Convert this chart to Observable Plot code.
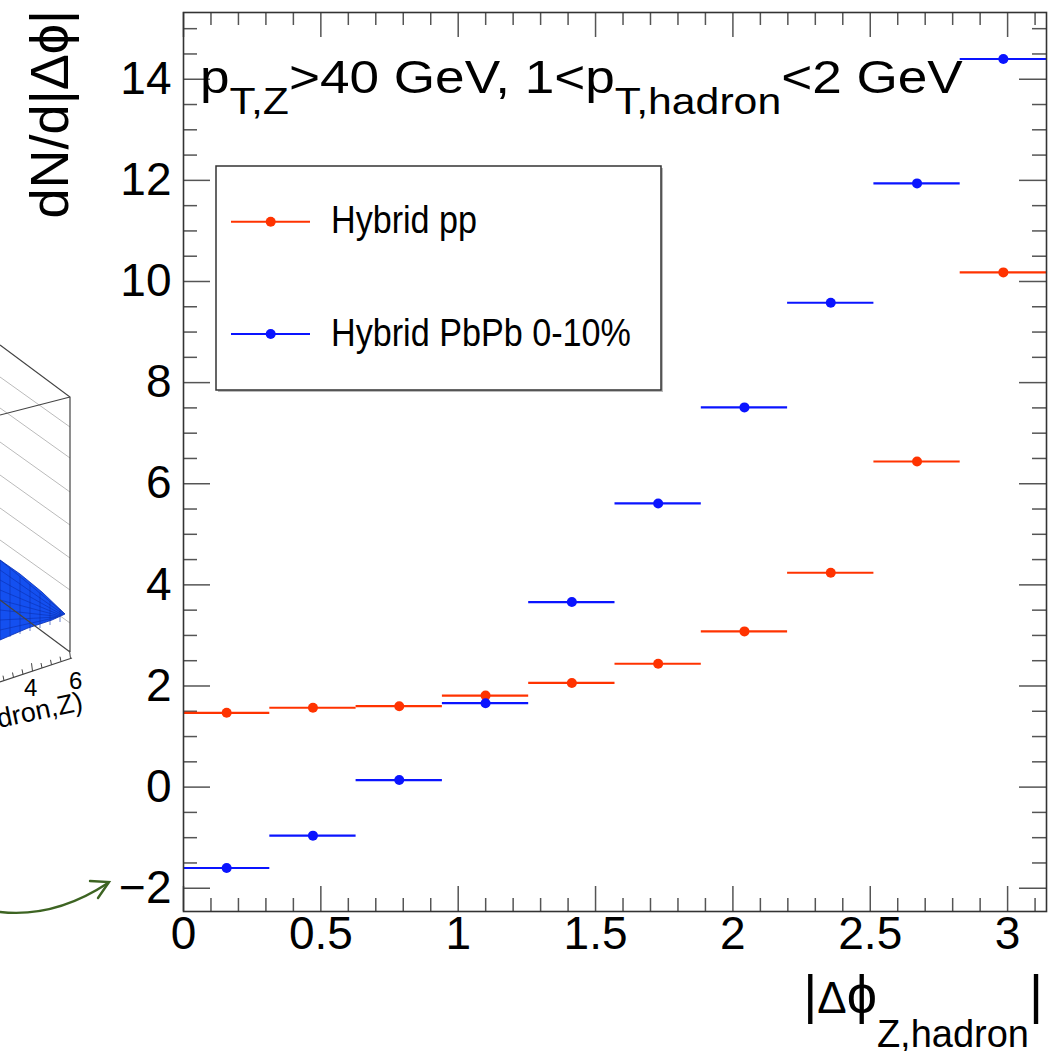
<!DOCTYPE html>
<html>
<head>
<meta charset="utf-8">
<script src="https://cdn.jsdelivr.net/npm/d3@7"></script>
<script src="https://cdn.jsdelivr.net/npm/@observablehq/plot@0.6"></script>
<style>
  html, body { margin: 0; padding: 0; background: #fff; }
  #chart svg { display: block; }
</style>
</head>
<body>
<div id="chart"></div>
<script>
// |Δφ| bin edges (10 bins from 0 to π)
const binEdges = [0, 0.3142, 0.6283, 0.9425, 1.2566, 1.5708, 1.8850, 2.1991, 2.5133, 2.8274, 3.1416];
// dN/d|Δφ| per bin
const hybridPP   = [1.47, 1.57, 1.60, 1.81, 2.06, 2.44, 3.08, 4.24, 6.44, 10.18];
const hybridPbPb = [-1.60, -0.96, 0.14, 1.66, 3.66, 5.61, 7.51, 9.58, 11.94, 14.40];
const seriesNames  = ["Hybrid pp", "Hybrid PbPb 0-10%"];
const seriesColors = ["#ff3300", "#0a14ff"];
const xTickLabels = [0, 0.5, 1, 1.5, 2, 2.5, 3];
const yTickLabels = [-2, 0, 2, 4, 6, 8, 10, 12, 14];

const W = 1049, H = 1051;
const mTop = 12, mRight = 3, mBottom = 140, mLeft = 183;
const plotW = W - mLeft - mRight, plotH = H - mTop - mBottom;

const rows = [];
[hybridPP, hybridPbPb].forEach((vals, s) => {
  vals.forEach((v, i) => {
    const lo = binEdges[i], hi = binEdges[i + 1];
    rows.push({series: seriesNames[s], lo, hi, mid: (lo + hi) / 2, value: v});
  });
});

// ROOT-style inward ticks on all four sides
const xMinor = d3.range(0, 3.15, 0.1).filter(v => Math.abs(v * 2 - Math.round(v * 2)) > 1e-6);
const yMinor = d3.range(-2, 15.01, 0.5).filter(v => Math.abs(v / 2 - Math.round(v / 2)) > 1e-6);
const tickStroke = "#555";
const fmt = d => (d < 0 ? "\u2212" + Math.abs(d) : String(d));

const chart = Plot.plot({
  width: W, height: H,
  marginTop: mTop, marginRight: mRight, marginBottom: mBottom, marginLeft: mLeft,
  style: {fontFamily: "'Liberation Sans', Arial, Helvetica, sans-serif", background: "#fff"},
  x: {domain: [0, Math.PI], axis: null},
  y: {domain: [-2.46, 15.32], axis: null},
  color: {domain: seriesNames, range: seriesColors},
  marks: [
    // left / right ticks
    Plot.tickY(yTickLabels, {y: d => d, stroke: tickStroke, strokeWidth: 1.5, insetRight: plotW - 27}),
    Plot.tickY(yMinor, {y: d => d, stroke: tickStroke, strokeWidth: 1.5, insetRight: plotW - 14}),
    Plot.tickY(yTickLabels, {y: d => d, stroke: tickStroke, strokeWidth: 1.5, insetLeft: plotW - 27}),
    Plot.tickY(yMinor, {y: d => d, stroke: tickStroke, strokeWidth: 1.5, insetLeft: plotW - 14}),
    // top / bottom ticks
    Plot.tickX(xTickLabels, {x: d => d, stroke: tickStroke, strokeWidth: 1.5, insetBottom: plotH - 25}),
    Plot.tickX(xMinor, {x: d => d, stroke: tickStroke, strokeWidth: 1.5, insetBottom: plotH - 13}),
    Plot.tickX(xTickLabels, {x: d => d, stroke: tickStroke, strokeWidth: 1.5, insetTop: plotH - 25}),
    Plot.tickX(xMinor, {x: d => d, stroke: tickStroke, strokeWidth: 1.5, insetTop: plotH - 13}),
    // tick labels
    Plot.text(xTickLabels, {x: d => d, frameAnchor: "bottom", dy: 37, text: fmt, fontSize: 46, fill: "#000"}),
    Plot.text(yTickLabels, {y: d => d, frameAnchor: "left", dx: -12, textAnchor: "end", text: fmt, fontSize: 46, fill: "#000"}),
    // horizontal bin-width bars and markers
    Plot.ruleY(rows, {y: "value", x1: "lo", x2: "hi", stroke: "series", strokeWidth: 2.2}),
    Plot.dot(rows, {x: "mid", y: "value", r: 5, fill: "series", stroke: null}),
    Plot.frame({stroke: "#333", strokeWidth: 1.6})
  ]
});

document.getElementById("chart").appendChild(chart);
const svg = d3.select(chart);
const font = "'Liberation Sans', Arial, Helvetica, sans-serif";

// Title with subscripts (ROOT's Helvetica renders wider than Liberation Sans)
const title = svg.append("text")
  .attr("transform", "translate(200,93) scale(1.155,1)").attr("text-anchor", "start")
  .attr("font-family", font).attr("font-size", 46).attr("fill", "#000");
title.append("tspan").text("p");
title.append("tspan").attr("font-size", 37).attr("dy", 21).text("T,Z");
title.append("tspan").attr("dy", -21).text(">40 GeV, 1<p");
title.append("tspan").attr("font-size", 37).attr("dy", 21).text("T,hadron");
title.append("tspan").attr("dy", -21).text("<2 GeV");

// Legend box
const lg = svg.append("g").attr("text-anchor", "start");
lg.append("rect").attr("x", 218).attr("y", 168).attr("width", 445).attr("height", 224)
  .attr("fill", "#bbb");
lg.append("rect").attr("x", 216).attr("y", 166).attr("width", 445).attr("height", 224)
  .attr("fill", "#fff").attr("stroke", "#333").attr("stroke-width", 1.5);
[221.7, 334].forEach((ly, i) => {
  lg.append("line").attr("x1", 231).attr("x2", 310).attr("y1", ly).attr("y2", ly)
    .attr("stroke", seriesColors[i]).attr("stroke-width", 2);
  lg.append("circle").attr("cx", 270.7).attr("cy", ly).attr("r", 5).attr("fill", seriesColors[i]);
  lg.append("text").attr("x", 331).attr("y", ly + 11.5)
    .attr("font-family", font).attr("font-size", 39).attr("fill", "#000")
    .attr("textLength", i === 0 ? 146 : 300).attr("lengthAdjust", "spacingAndGlyphs")
    .text(seriesNames[i]);
});

// Y axis title
svg.append("text")
  .attr("transform", "translate(68,10) rotate(-90)")
  .attr("text-anchor", "end")
  .attr("font-family", font).attr("font-size", 54).attr("fill", "#000")
  .text("dN/d|\u0394\u03D5|");

// X axis title
const xt = svg.append("text")
  .attr("x", 1043).attr("y", 1013).attr("text-anchor", "end")
  .attr("font-family", font).attr("font-size", 54).attr("fill", "#000");
xt.append("tspan").text("|");
xt.append("tspan").attr("font-size", 44).text("\u0394");
xt.append("tspan").text("\u03D5");
xt.append("tspan").attr("font-size", 38).attr("dy", 34).text("Z,hadron");
xt.append("tspan").attr("dy", -34).text("|");

// Neighbouring 3D surface panel (partly visible at the left edge)
const p3 = svg.append("g").attr("fill", "none").attr("text-anchor", "start");
// back-wall grid lines
[427, 458, 492, 525, 558, 590, 623].forEach(y => {
  p3.append("line").attr("x1", 0).attr("y1", y - 50).attr("x2", 70).attr("y2", y)
    .attr("stroke", "#bbb").attr("stroke-width", 1);
});
// blue surface
p3.append("path")
  .attr("d", "M0,560 L20,574 L42,592 L65,614 L52,620 L28,628 L0,640 Z")
  .attr("fill", "#1450f0").attr("stroke", "#0a2fb0").attr("stroke-width", 0.8);
d3.range(0, 8).forEach(k => {
  const t = k / 8;
  p3.append("line").attr("x1", 0).attr("y1", 560 + t * 80).attr("x2", 65 - 10 * t).attr("y2", 614 + t * 4)
    .attr("stroke", "#0a2fb0").attr("stroke-width", 0.6);
});
d3.range(1, 7).forEach(k => {
  const x = k * 10;
  p3.append("line").attr("x1", x).attr("y1", 560 + x * 0.82).attr("x2", x).attr("y2", 640 - x * 0.3)
    .attr("stroke", "#0a2fb0").attr("stroke-width", 0.6);
});
// box edges
p3.append("path").attr("d", "M0,345 L70,397 L70,652 M70,397 L0,415 M0,600 L70,652")
  .attr("stroke", "#444").attr("stroke-width", 1.2);
// front axis with ticks
p3.append("path").attr("d", "M0,682 L72,658").attr("stroke", "#444").attr("stroke-width", 1.2);
d3.range(0, 8).forEach(k => {
  const x = 4 + k * 9.5, y = 682 - (x * 24 / 72);
  p3.append("line").attr("x1", x).attr("y1", y).attr("x2", x - 1).attr("y2", y - (k % 4 === 3 ? 8 : 5))
    .attr("stroke", "#444").attr("stroke-width", 1);
});
p3.append("text").attr("x", 24).attr("y", 696).attr("font-family", font).attr("font-size", 24)
  .attr("fill", "#000").text("4");
p3.append("text").attr("x", 69).attr("y", 689).attr("font-family", font).attr("font-size", 24)
  .attr("fill", "#000").text("6");
p3.append("text").attr("transform", "translate(-1,728) rotate(-12)")
  .attr("font-family", font).attr("font-size", 27).attr("fill", "#000").text("dron,Z)");

// Green curved arrow pointing at the panel
const ga = svg.append("g").attr("fill", "none").attr("stroke", "#3d6422")
  .attr("stroke-width", 2.4).attr("stroke-linecap", "round");
ga.append("path").attr("d", "M0,912 Q55,918 108,883");
ga.append("path").attr("d", "M90,881 L109,882 L98,898");
</script>
</body>
</html>
